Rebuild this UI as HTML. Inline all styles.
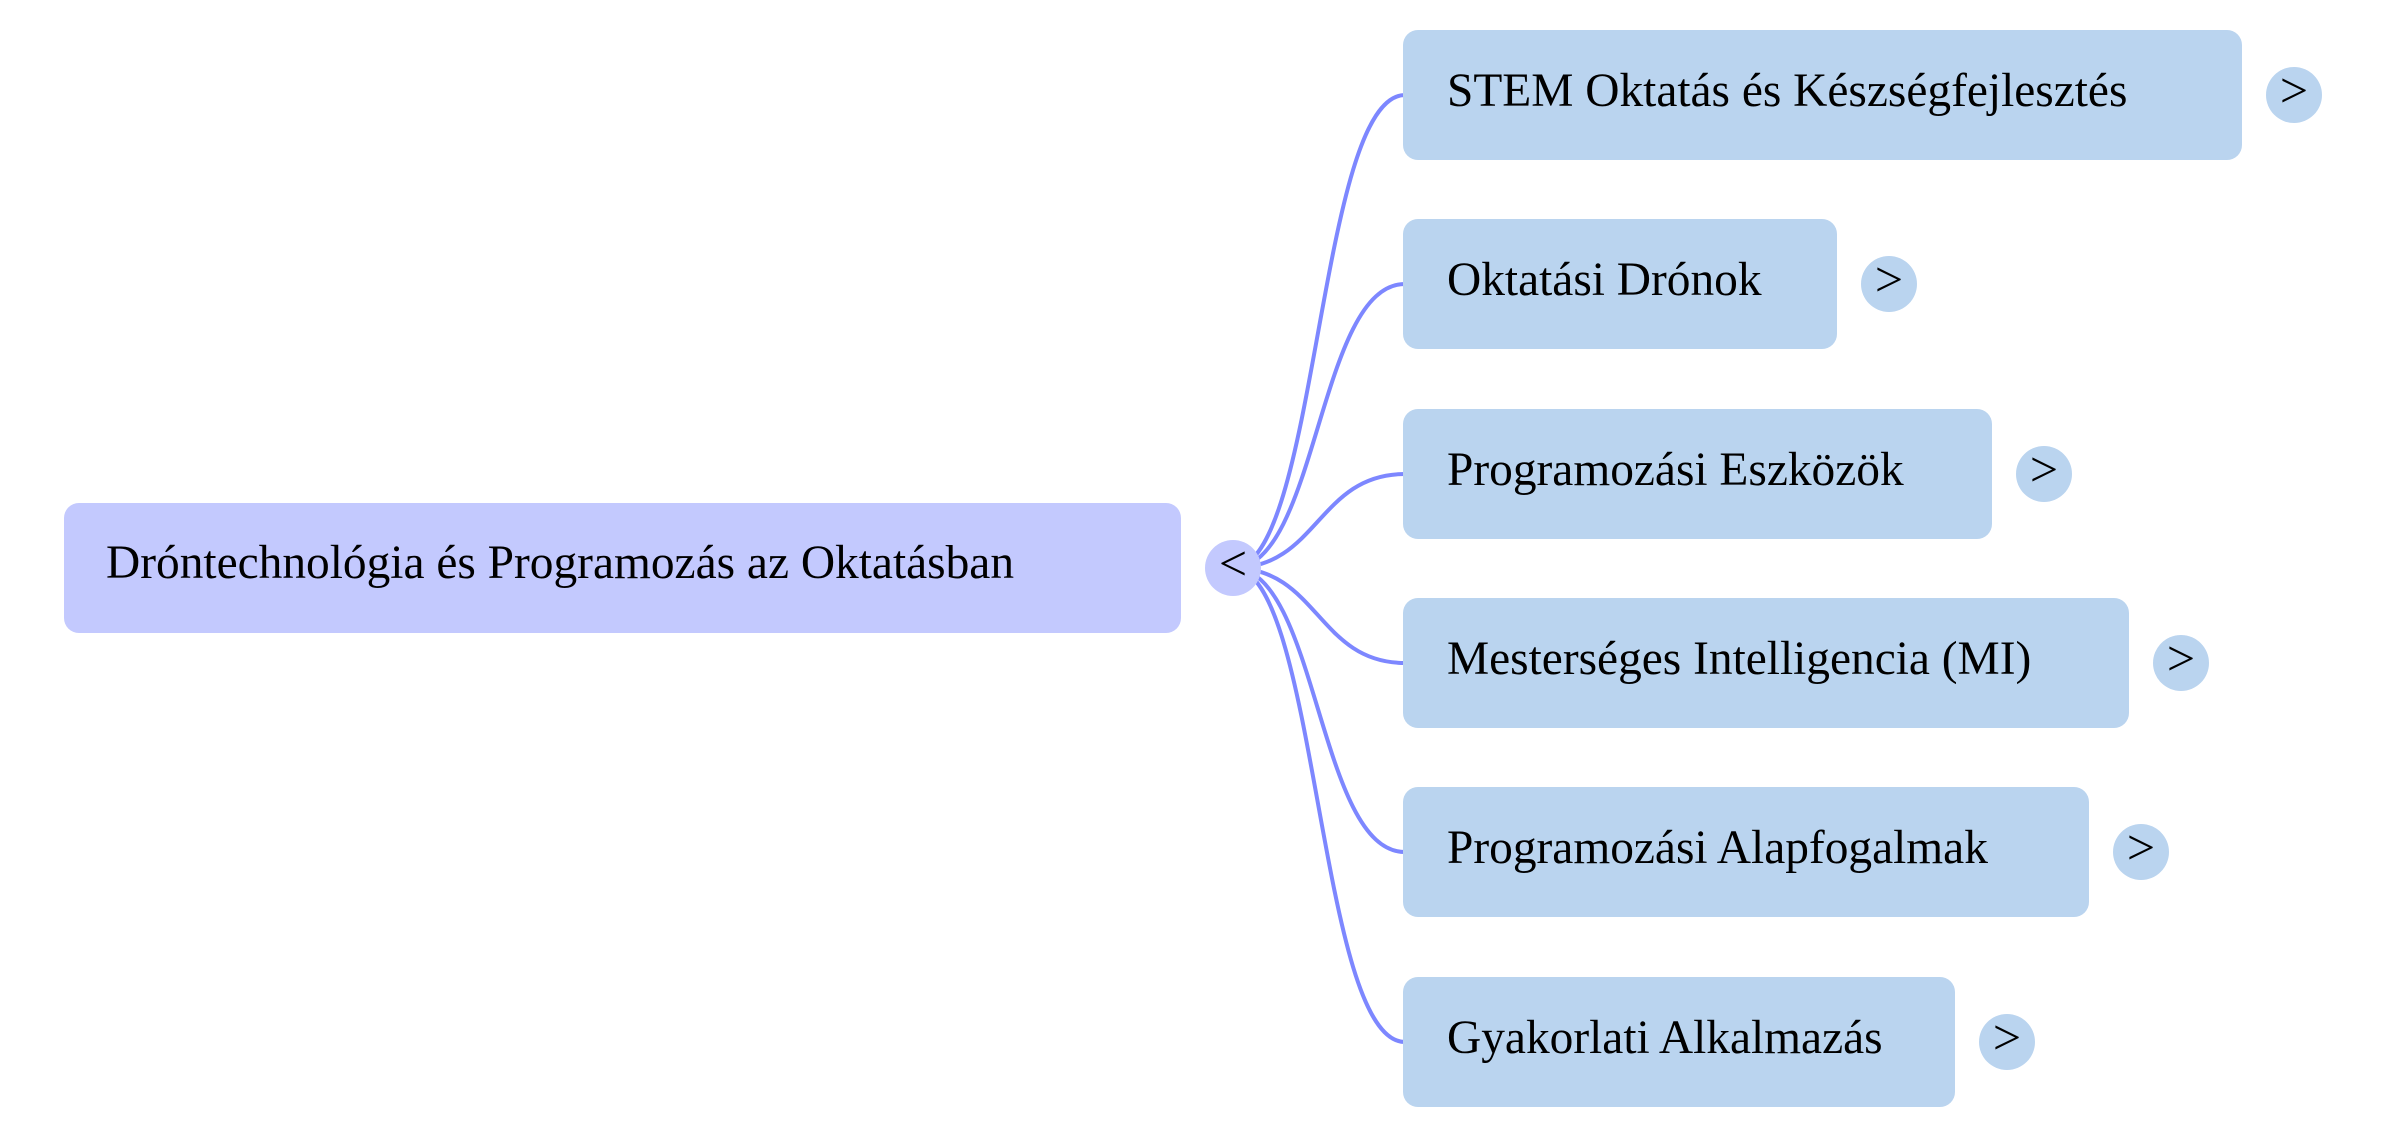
<!DOCTYPE html>
<html>
<head>
<meta charset="utf-8">
<style>
  html, body { margin: 0; padding: 0; background: #ffffff; }
  svg { display: block; }
  text { font-family: "Liberation Serif", "Times New Roman", serif; fill: #000; }
</style>
</head>
<body>
<svg width="2386" height="1137" viewBox="0 0 2386 1137" xmlns="http://www.w3.org/2000/svg">
  <rect x="0" y="0" width="2386" height="1137" fill="#ffffff"/>

  <!-- connectors -->
  <g fill="none" stroke="#7d87ff" stroke-width="4">
    <path d="M1233 568 C1318 568, 1318 95, 1405 95"/>
    <path d="M1233 568 C1318 568, 1318 284, 1405 284"/>
    <path d="M1233 568 C1318 568, 1318 474, 1405 474"/>
    <path d="M1233 568 C1318 568, 1318 663, 1405 663"/>
    <path d="M1233 568 C1318 568, 1318 852, 1405 852"/>
    <path d="M1233 568 C1318 568, 1318 1042, 1405 1042"/>
  </g>

  <!-- root node -->
  <rect x="64" y="503" width="1117" height="130" rx="15" ry="15" fill="#c3c9fe"/>
  <text x="106" y="578" font-size="47.4">Dróntechnológia és Programozás az Oktatásban</text>
  <circle cx="1233" cy="568" r="28" fill="#c3c9fe"/>
  <text x="1233" y="580" font-size="50" text-anchor="middle">&lt;</text>

  <!-- child nodes -->
  <g fill="#bad4ef">
    <rect x="1403" y="30" width="839" height="130" rx="15" ry="15"/>
    <rect x="1403" y="219" width="434" height="130" rx="15" ry="15"/>
    <rect x="1403" y="409" width="589" height="130" rx="15" ry="15"/>
    <rect x="1403" y="598" width="726" height="130" rx="15" ry="15"/>
    <rect x="1403" y="787" width="686" height="130" rx="15" ry="15"/>
    <rect x="1403" y="977" width="552" height="130" rx="15" ry="15"/>

    <circle cx="2294" cy="95" r="28"/>
    <circle cx="1889" cy="284" r="28"/>
    <circle cx="2044" cy="474" r="28"/>
    <circle cx="2181" cy="663" r="28"/>
    <circle cx="2141" cy="852" r="28"/>
    <circle cx="2007" cy="1042" r="28"/>
  </g>

  <g font-size="47.4">
    <text x="1447" y="106">STEM Oktatás és Készségfejlesztés</text>
    <text x="1447" y="295">Oktatási Drónok</text>
    <text x="1447" y="485">Programozási Eszközök</text>
    <text x="1447" y="674">Mesterséges Intelligencia (MI)</text>
    <text x="1447" y="863">Programozási Alapfogalmak</text>
    <text x="1447" y="1053">Gyakorlati Alkalmazás</text>
  </g>

  <g font-size="50" text-anchor="middle">
    <text x="2294" y="107">&gt;</text>
    <text x="1889" y="296">&gt;</text>
    <text x="2044" y="486">&gt;</text>
    <text x="2181" y="675">&gt;</text>
    <text x="2141" y="864">&gt;</text>
    <text x="2007" y="1054">&gt;</text>
  </g>
</svg>
</body>
</html>
